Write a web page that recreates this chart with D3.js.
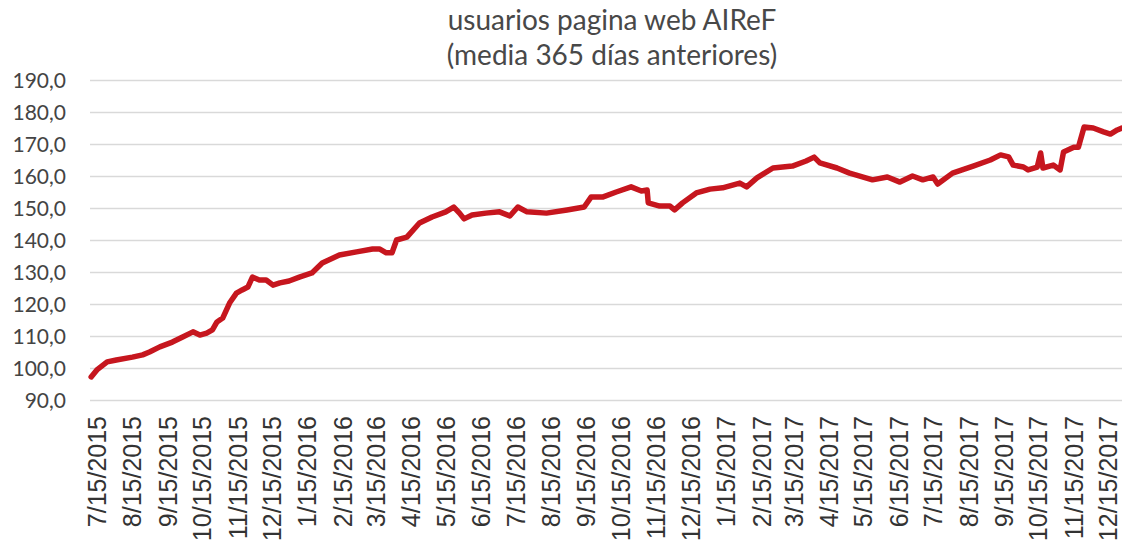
<!DOCTYPE html>
<html>
<head>
<meta charset="utf-8">
<script src="https://cdn.jsdelivr.net/npm/d3@7"></script>
<style>
  body { margin: 0; background: #fff; }
  svg { display: block; }
</style>
</head>
<body>
<script>
const w = 1122
const h = 547

const titleLines = ["usuarios pagina web AIReF", "(media 365 días anteriores)"]
const yTicks = [90, 100, 110, 120, 130, 140, 150, 160, 170, 180, 190]
const tickDates = ["2015-07-15", "2015-08-15", "2015-09-15", "2015-10-15", "2015-11-15", "2015-12-15",
  "2016-01-15", "2016-02-15", "2016-03-15", "2016-04-15", "2016-05-15", "2016-06-15",
  "2016-07-15", "2016-08-15", "2016-09-15", "2016-10-15", "2016-11-15", "2016-12-15",
  "2017-01-15", "2017-02-15", "2017-03-15", "2017-04-15", "2017-05-15", "2017-06-15",
  "2017-07-15", "2017-08-15", "2017-09-15", "2017-10-15", "2017-11-15", "2017-12-15"]

// values
const dates = ["2015-07-10", "2015-07-15", "2015-07-24", "2015-08-01", "2015-08-15", "2015-08-24", "2015-08-30",
  "2015-09-08", "2015-09-19", "2015-09-28", "2015-10-07", "2015-10-13", "2015-10-19", "2015-10-24", "2015-10-28",
  "2015-11-02", "2015-11-08", "2015-11-14", "2015-11-19", "2015-11-24", "2015-11-28", "2015-12-04", "2015-12-10",
  "2015-12-16", "2015-12-22", "2015-12-30", "2016-01-08", "2016-01-19", "2016-01-28", "2016-02-12", "2016-02-27",
  "2016-03-12", "2016-03-18", "2016-03-24", "2016-03-29", "2016-04-02", "2016-04-11", "2016-04-22", "2016-05-03",
  "2016-05-15", "2016-05-22", "2016-05-27", "2016-05-31", "2016-06-07", "2016-06-19", "2016-07-01", "2016-07-10",
  "2016-07-17", "2016-07-25", "2016-08-11", "2016-08-29", "2016-09-13", "2016-09-19", "2016-09-29", "2016-10-11",
  "2016-10-24", "2016-11-02", "2016-11-07", "2016-11-08", "2016-11-18", "2016-11-27", "2016-12-01", "2016-12-08",
  "2016-12-20", "2017-01-01", "2017-01-12", "2017-01-27", "2017-02-02", "2017-02-11", "2017-02-25", "2017-03-14",
  "2017-03-26", "2017-04-02", "2017-04-07", "2017-04-22", "2017-05-03", "2017-05-09", "2017-05-23", "2017-06-05",
  "2017-06-16", "2017-06-27", "2017-07-06", "2017-07-15", "2017-07-19", "2017-08-01", "2017-08-19", "2017-09-03",
  "2017-09-12", "2017-09-19", "2017-09-23", "2017-10-02", "2017-10-06", "2017-10-14", "2017-10-17", "2017-10-19",
  "2017-10-28", "2017-11-03", "2017-11-06", "2017-11-15", "2017-11-19", "2017-11-24", "2017-12-02", "2017-12-11",
  "2017-12-17", "2017-12-23", "2017-12-27"]
const users = [97.2, 99.4, 101.9, 102.5, 103.4, 104.1, 105,
  106.6, 108.1, 109.7, 111.3, 110.3, 110.9, 111.9, 114.4,
  115.6, 120.3, 123.4, 124.4, 125.3, 128.4, 127.5, 127.5,
  125.9, 126.6, 127.2, 128.4, 129.7, 132.8, 135.3, 136.3,
  137.2, 137.2, 136, 136, 140, 140.9, 145.3, 147.2,
  148.8, 150.3, 148.4, 146.6, 147.8, 148.4, 148.8, 147.5,
  150.3, 148.8, 148.4, 149.4, 150.3, 153.4, 153.4, 155,
  156.6, 155.3, 155.6, 151.6, 150.6, 150.6, 149.4, 151.6,
  154.7, 155.9, 156.3, 157.8, 156.6, 159.4, 162.5, 163.1,
  164.7, 165.9, 164.1, 162.5, 160.9, 160.3, 158.8, 159.7,
  158.1, 160, 158.8, 159.7, 157.5, 160.9, 163.1, 165,
  166.6, 166, 163.4, 162.8, 161.9, 162.8, 167.2, 162.5,
  163.4, 161.9, 167.5, 169, 169, 175.3, 175, 173.8,
  173.1, 174.4, 175]

const parse = d3.timeParse("%Y-%m-%d")
const data = dates.map((d, i) => ({date: parse(d), v: users[i]}))

const svg = d3.select("body").append("svg").attr("width", w).attr("height", h)

const x = d3.scaleTime().domain([parse("2015-07-09"), parse("2017-12-28")]).range([90, 1123])
const y = d3.scaleLinear().domain([90, 190]).range([400, 80])

// title
svg.append("g").selectAll("text").data(titleLines).enter().append("text")
  .attr("x", 612).attr("y", (d, i) => 30 + i * 35)
  .attr("text-anchor", "middle").attr("font-family", "Lato").attr("font-size", 28).attr("fill", "#484848")
  .text(d => d)

// horizontal grid
svg.append("g").attr("transform", "translate(90,0)")
  .call(d3.axisLeft(y).tickValues(yTicks).tickSize(-1032).tickFormat(""))
  .call(g => g.select(".domain").remove())
  .call(g => g.selectAll("line").attr("stroke", "#d9d9d9").attr("stroke-width", 1.5))

// y labels
svg.append("g").selectAll("text").data(yTicks).enter().append("text")
  .attr("x", 66).attr("y", d => y(d)).attr("dy", "0.36em")
  .attr("text-anchor", "end").attr("font-family", "Lato").attr("font-size", 21).attr("fill", "#444")
  .text(d => d3.format(".1f")(d).replace(".", ","))

// x labels, rotated
const fmt = d => (d.getMonth() + 1) + "/" + d.getDate() + "/" + d.getFullYear()
svg.append("g").selectAll("text").data(tickDates.map(parse)).enter().append("text")
  .attr("transform", d => "translate(" + x(d) + ",416) rotate(-90)")
  .attr("dy", "0.36em").attr("text-anchor", "end")
  .attr("font-family", "Liberation Sans").attr("font-size", 25).attr("fill", "#333")
  .text(fmt)

const line = d3.line().x(d => x(d.date)).y(d => y(d.v))
svg.append("path").datum(data).attr("d", line)
  .attr("fill", "none").attr("stroke", "#c6161e").attr("stroke-width", 5.5)
  .attr("stroke-linejoin", "round").attr("stroke-linecap", "round")
</script>
</body>
</html>
